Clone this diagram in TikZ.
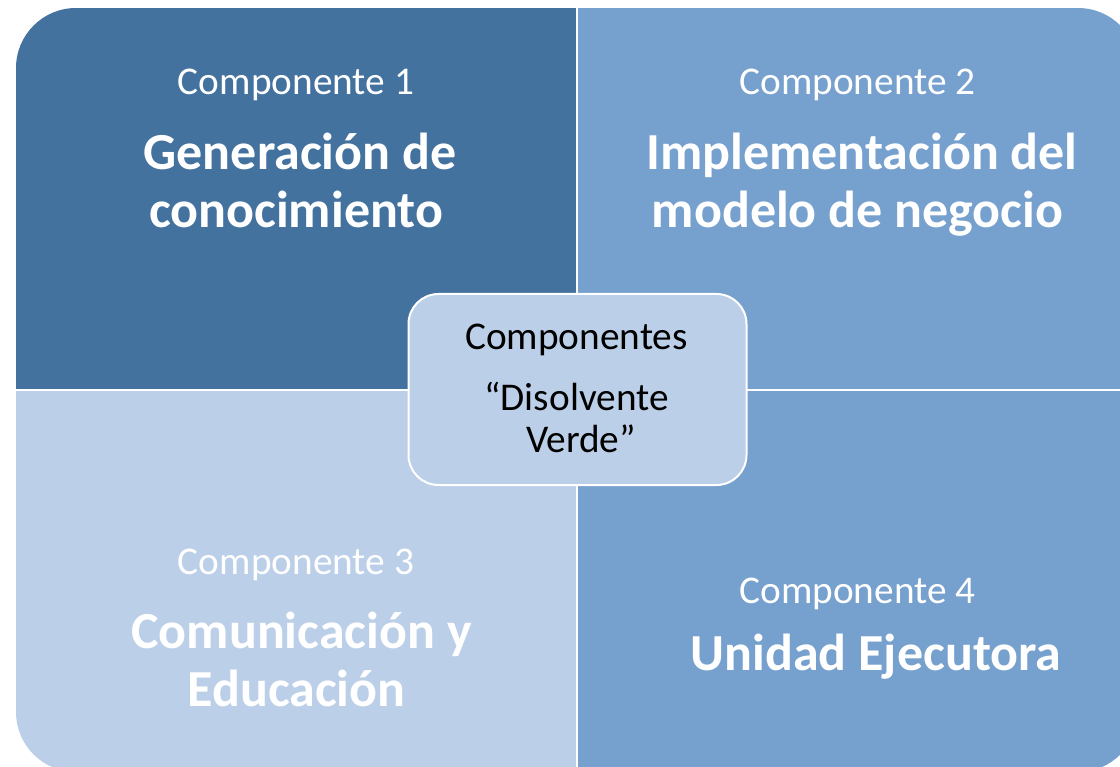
\documentclass[tikz,border=0pt]{standalone}
\usepackage{fontspec}
\setmainfont{Carlito}
\definecolor{qdark}{RGB}{68,114,159}
\definecolor{qmid}{RGB}{118,160,205}
\definecolor{qlight}{RGB}{187,207,232}
\tikzset{
  small/.style={text=white, inner sep=0pt, anchor=base, font=\fontsize{39.3}{47}\selectfont},
  big/.style={text=white, inner sep=0pt, anchor=base, font=\bfseries\fontsize{52}{58}\selectfont},
  ctext/.style={text=black, inner sep=0pt, anchor=base, font=\fontsize{39.3}{47}\selectfont},
  centerbox/.style={draw=white, line width=2pt, fill=qlight, rounded corners=30pt, inner sep=0pt}
}
\begin{document}
\begin{tikzpicture}[x=1pt,y=-1pt]
\useasboundingbox[fill=white] (0,0) rectangle (1120,767);
\begin{scope}
  \clip[rounded corners=60pt] (16,8) rectangle (1138,772);
  \fill[qdark]  (16,8)   rectangle (577,390);
  \fill[qmid]   (577,8)  rectangle (1138,390);
  \fill[qlight] (16,390) rectangle (577,772);
  \fill[qmid]   (577,390) rectangle (1138,772);
  \draw[white, line width=2.2pt] (577.3,0) -- (577.3,780);
  \draw[white, line width=2.2pt] (0,390) -- (1140,390);
\end{scope}
% quadrant texts
\node[small] (c1) at (296,94.5) {Componente 1};
\node[big] (g1a) at (300,170) {Generación de};
\node[big] (g1b) at (296,228) {conocimiento};
\node[small] (c2) at (857.5,94.5) {Componente 2};
\node[big] (g2a) at (862,170) {Implementación del};
\node[big] (g2b) at (857.5,228) {modelo de negocio};
\node[small] (c3) at (296,574.5) {Componente 3};
\node[big] (g3a) at (301.5,648) {Comunicación y};
\node[big] (g3b) at (296.5,706) {Educación};
\node[small] (c4) at (857.5,603.5) {Componente 4};
\node[big] (g4) at (876,670) {Unidad Ejecutora};
% center box
\node[centerbox, minimum width=338pt, minimum height=191pt] (box) at (577.5,389.5) {};
\node[ctext] (t1) at (576.5,350) {Componentes};
\node[ctext] (t2) at (576.5,410) {“Disolvente};
\node[ctext] (t3) at (581,453) {Verde”};
\end{tikzpicture}
\end{document}
